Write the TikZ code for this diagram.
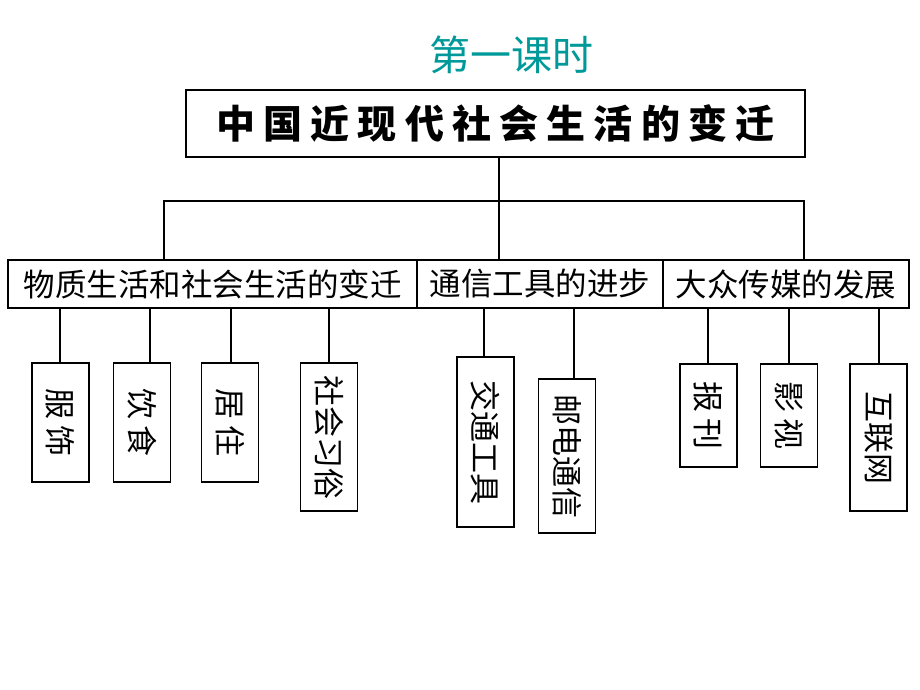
\documentclass[tikz,border=0pt]{standalone}
\usepackage{fontspec}
\usepackage{graphicx}
\setmainfont{Noto Sans CJK SC}
\definecolor{titleteal}{RGB}{0,153,153}
\begin{document}
\begin{tikzpicture}[x=1pt, y=-1pt,
    box/.style={draw, line width=1.2pt, inner sep=0pt},
    catbox/.style={box, minimum height=48pt, font=\fontsize{31.5}{31.5}\selectfont},
    leafbox/.style={box, minimum width=57pt, font=\fontsize{31}{31}\selectfont},
    link/.style={line width=1.2pt}]
    % canvas from (0,0) to (920,690)
    \fill[white] (0,0) rectangle (920,690);

    % Title
    \node[text=titleteal, font=\fontsize{41}{41}\selectfont] (title) at (511,55) {第一课时};

    % Main box
    \node[box, minimum width=619pt, minimum height=67pt,
          font=\fontsize{39}{39}\bfseries\addfontfeature{LetterSpace=21}] (root) at (495.5,123.5) {中国近现代社会生活的变迁};

    % Three topics
    \node[catbox, minimum width=409pt] (life) at (212.5,284) {物质生活和社会生活的变迁};
    \node[catbox, minimum width=246pt] (comm) at (540,284) {通信工具的进步};
    \node[catbox, minimum width=246pt] (media) at (786,284) {大众传媒的发展};

    % Bus line
    \coordinate (b1) at (164,201);
    \coordinate (b2) at (499,201);
    \coordinate (b3) at (804,201);
    \draw[link] (b1 |- life.north) -- (b1) -- (b3) -- (b3 |- media.north);
    \draw[link] (b2 |- root.south) -- (b2 |- comm.north);

    % Leaves
    \node[leafbox, minimum height=119pt] (dress) at (60.5,422.5) {\rotatebox{-90}{服 饰}};
    \node[leafbox, minimum height=119pt] (food) at (142,422.5) {\rotatebox{-90}{饮 食}};
    \node[leafbox, minimum height=119pt] (house) at (230,422.5) {\rotatebox{-90}{居 住}};
    \node[leafbox, minimum height=148pt] (custom) at (329,437) {\rotatebox{-90}{社会习俗}};
    \node[leafbox, minimum height=170pt] (traffic) at (485.5,442) {\rotatebox{-90}{交通工具}};
    \node[leafbox, minimum height=154pt] (post) at (567,456) {\rotatebox{-90}{邮电通信}};
    \node[leafbox, minimum height=103pt] (paper) at (708.5,415.5) {\rotatebox{-90}{报 刊}};
    \node[leafbox, minimum height=103pt] (film) at (789,415.5) {\rotatebox{-90}{影 视}};
    \node[leafbox, minimum height=147pt] (net) at (878.5,437.5) {\rotatebox{-90}{互联网}};

    % Links to leaves
    \foreach \leaf/\dx/\cat in {dress/-0.5/life, food/8/life, house/1/life, custom/0/life,
                                traffic/-1.5/comm, post/7/comm,
                                paper/-0.5/media, film/0/media, net/0.5/media}
        \draw[link] ([xshift=\dx pt]\leaf.north) -- ([xshift=\dx pt]\leaf.north |- \cat.south);
\end{tikzpicture}
\end{document}
